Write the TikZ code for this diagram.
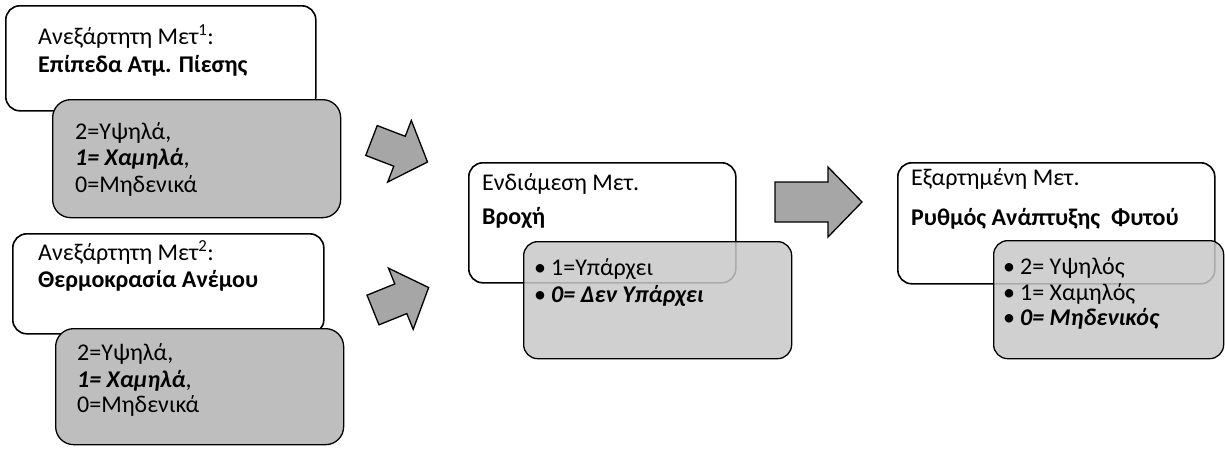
\documentclass[tikz,border=0pt]{standalone}
\usepackage{fontspec}
\setmainfont{Carlito}
\definecolor{grayA}{HTML}{BEBEBE}
\definecolor{grayB}{HTML}{C8C8C8}
\definecolor{arrowgray}{HTML}{A6A6A6}
\begin{document}
\begin{tikzpicture}[x=1pt,y=-1pt,
  wbox/.style={draw=black, line width=1.6pt, fill=white, rounded corners=14pt, anchor=north west, inner sep=0pt},
  gboxA/.style={draw=black, line width=1.3pt, fill=grayA, rounded corners=18pt, anchor=north west, inner sep=0pt},
  gboxB/.style={draw=black, line width=1.3pt, fill=grayB, fill opacity=0.85, rounded corners=14pt, anchor=north west, inner sep=0pt},
  lbl/.style={anchor=mid west, inner sep=0pt, font=\fontsize{24}{28}\selectfont},
  blbl/.style={lbl, font=\fontsize{24}{28}\selectfont\bfseries},
  arr/.style={draw=black, line width=1.3pt, fill=arrowgray, line join=miter}
]
\useasboundingbox (0,0) rectangle (1225,448);
% left upper
\node[wbox, minimum width=310pt, minimum height=105pt] (b1) at (5,5) {};
\node[gboxA, minimum width=288pt, minimum height=118pt] (g1) at (52,99) {};
\node[lbl] (b1a) at (38,42) {Ανεξάρτητη Μετ\textsuperscript{1}:};
\node[blbl] (b1b) at (38,70) {Επίπεδα Ατμ. Πίεσης};
\node[lbl] (g1a) at (75,137) {2=Υψηλά,};
\node[lbl] (g1b) at (75,163) {\textbf{\textit{1= Χαμηλά}},};
\node[lbl] (g1c) at (75,190) {0=Μηδενικά};
% left lower
\node[wbox, minimum width=311pt, minimum height=100pt] (b2) at (12,233) {};
\node[gboxA, minimum width=288pt, minimum height=116pt] (g2) at (55,328) {};
\node[lbl] (b2a) at (38,258) {Ανεξάρτητη Μετ\textsuperscript{2}:};
\node[blbl] (b2b) at (38,285) {Θερμοκρασία Ανέμου};
\node[lbl] (g2a) at (77,358) {2=Υψηλά,};
\node[lbl] (g2b) at (77,385) {\textbf{\textit{1= Χαμηλά}},};
\node[lbl] (g2c) at (77,410) {0=Μηδενικά};
% middle
\node[wbox, minimum width=267pt, minimum height=120pt] (b3) at (468,162) {};
\node[gboxB, minimum width=268pt, minimum height=117pt] (g3) at (523,241) {};
\node[lbl] (b3a) at (482,188) {Ενδιάμεση Μετ.};
\node[blbl] (b3b) at (482,222) {Βροχή};
\node[lbl] (g3a) at (534,273) {•\hspace{5pt}1=Υπάρχει};
\node[lbl] (g3b) at (534,300) {•\hspace{5pt}\textbf{\textit{0= Δεν Υπάρχει}}};
% right
\node[wbox, minimum width=317pt, minimum height=121pt] (b4) at (897,162) {};
\node[gboxB, minimum width=230pt, minimum height=118pt] (g4) at (993,240) {};
\node[lbl] (b4a) at (911,183) {Εξαρτημένη Μετ.};
\node[blbl] (b4b) at (911,223) {Ρυθμός Ανάπτυξης\ \ Φυτού};
\node[lbl] (g4a) at (1003,272) {•\hspace{5pt}2= Υψηλός};
\node[lbl] (g4b) at (1003,298) {•\hspace{5pt}1= Χαμηλός};
\node[lbl] (g4c) at (1003,323) {•\hspace{5pt}\textbf{\textit{0= Μηδενικός}}};
% arrows
\begin{scope}[shift={(371.5,140.5)}, rotate=-21]
  \path[arr] (0,-16) -- (30,-16) -- (30,-33) -- (60,0) -- (30,33) -- (30,16) -- (0,16) -- cycle;
\end{scope}
\begin{scope}[shift={(373,310)}, rotate=22]
  \path[arr] (0,-16) -- (30,-16) -- (30,-33) -- (60,0) -- (30,33) -- (30,16) -- (0,16) -- cycle;
\end{scope}
\path[arr] (775,182) -- (828,182) -- (828,167) -- (862,202) -- (828,237) -- (828,222) -- (775,222) -- cycle;
\end{tikzpicture}
\end{document}
